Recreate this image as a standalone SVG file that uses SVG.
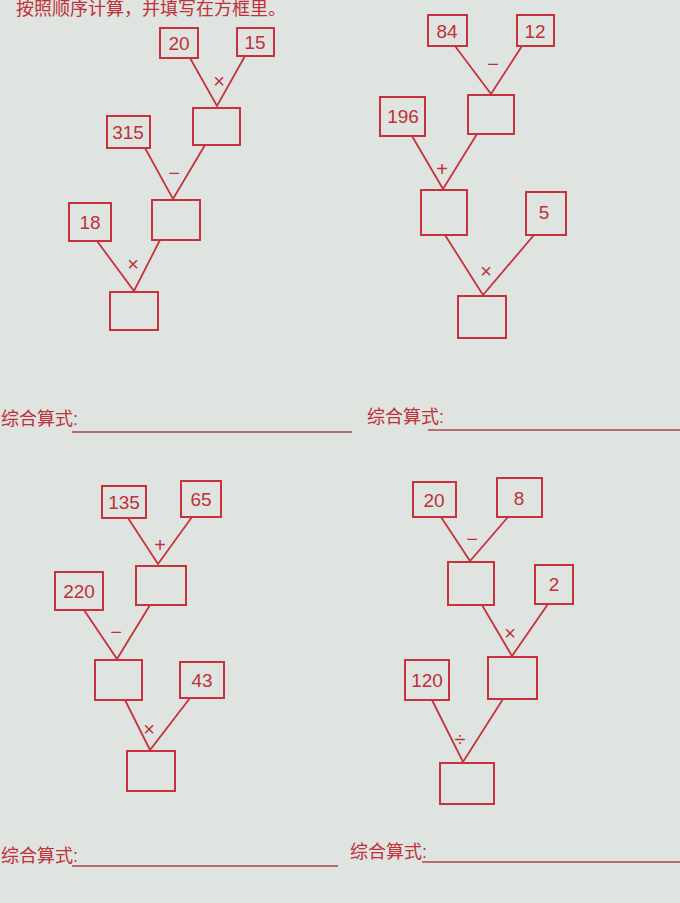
<svg xmlns="http://www.w3.org/2000/svg" width="680" height="903" viewBox="0 0 680 903">
<style>
.b{fill:none;stroke:#c8323c;stroke-width:2}
.c path,.c line{stroke:#c8323c;stroke-width:1.8;fill:none}
.n{font-family:"Liberation Sans",sans-serif;font-size:19px;fill:#c03038;text-anchor:middle}
.o{font-family:"Liberation Sans",sans-serif;font-size:20px;fill:#c03038;text-anchor:middle}
.l{font-family:"Liberation Sans","Noto Sans CJK SC",sans-serif;font-size:18px;fill:#c03038}
.u{stroke:#b04048;stroke-width:1.5}
</style>
<rect width="680" height="903" fill="#dfe4e1"/>
<text class="l" x="16" y="15" font-size="15">按照顺序计算，并填写在方框里。</text>
<g class="c" id="connectors">
<path d="M190 58L217 106L245 56"/><path d="M145 148L173 199L205 145"/><path d="M97 241L134 291L160 240"/>
<path d="M455 46L491 94L522 46"/><path d="M412 136L443 189L477 134"/><path d="M445 235L483 295L534 235"/>
<path d="M128 518L158 564L192 517"/><path d="M84 610L117 659L150 605"/><path d="M125 700L150 750L190 698"/>
<path d="M441 517L470 561L508 517"/><path d="M482 605L512 656L548 604"/><path d="M432 700L463 762L503 699"/>
</g>
<g id="t1">
<rect class="b" x="160" y="28" width="38" height="30"/><text class="n" x="179" y="50">20</text>
<rect class="b" x="237" y="28" width="37" height="28"/><text class="n" x="255" y="49">15</text>
<text class="o" x="219" y="88">×</text>
<rect class="b" x="193" y="108" width="47" height="37"/>
<rect class="b" x="107" y="116" width="43" height="32"/><text class="n" x="128" y="139">315</text>
<text class="o" x="174" y="180">−</text>
<rect class="b" x="152" y="200" width="48" height="40"/>
<rect class="b" x="69" y="203" width="42" height="38"/><text class="n" x="90" y="229">18</text>
<text class="o" x="133" y="271">×</text>
<rect class="b" x="110" y="292" width="48" height="38"/>
</g>
<g id="t2">
<rect class="b" x="428" y="15" width="39" height="31"/><text class="n" x="447" y="38">84</text>
<rect class="b" x="517" y="15" width="37" height="31"/><text class="n" x="535" y="38">12</text>
<text class="o" x="493" y="71">−</text>
<rect class="b" x="468" y="95" width="46" height="39"/>
<rect class="b" x="380" y="97" width="45" height="39"/><text class="n" x="403" y="123">196</text>
<text class="o" x="442" y="176">+</text>
<rect class="b" x="421" y="190" width="46" height="45"/>
<rect class="b" x="526" y="192" width="40" height="43"/><text class="n" x="544" y="219">5</text>
<text class="o" x="486" y="278">×</text>
<rect class="b" x="458" y="296" width="48" height="42"/>
</g>
<g id="t3">
<rect class="b" x="102" y="486" width="44" height="32"/><text class="n" x="124" y="509">135</text>
<rect class="b" x="181" y="481" width="40" height="36"/><text class="n" x="201" y="506">65</text>
<text class="o" x="160" y="552">+</text>
<rect class="b" x="136" y="566" width="50" height="39"/>
<rect class="b" x="55" y="572" width="48" height="38"/><text class="n" x="79" y="598">220</text>
<text class="o" x="116" y="639">−</text>
<rect class="b" x="95" y="660" width="47" height="40"/>
<rect class="b" x="180" y="662" width="44" height="36"/><text class="n" x="202" y="687">43</text>
<text class="o" x="149" y="736">×</text>
<rect class="b" x="127" y="751" width="48" height="40"/>
</g>
<g id="t4">
<rect class="b" x="413" y="482" width="43" height="35"/><text class="n" x="434" y="507">20</text>
<rect class="b" x="497" y="478" width="45" height="39"/><text class="n" x="519" y="505">8</text>
<text class="o" x="472" y="546">−</text>
<rect class="b" x="448" y="562" width="46" height="43"/>
<rect class="b" x="535" y="565" width="38" height="39"/><text class="n" x="554" y="591">2</text>
<text class="o" x="510" y="640">×</text>
<rect class="b" x="488" y="657" width="49" height="42"/>
<rect class="b" x="405" y="660" width="44" height="40"/><text class="n" x="427" y="687">120</text>
<text class="o" x="460" y="746">÷</text>
<rect class="b" x="440" y="763" width="54" height="41"/>
</g>
<g id="labels">
<text class="l" x="1" y="425">综合算式:</text><line class="u" x1="72" y1="432" x2="352" y2="432"/>
<text class="l" x="367" y="423">综合算式:</text><line class="u" x1="428" y1="430" x2="680" y2="430"/>
<text class="l" x="1" y="862">综合算式:</text><line class="u" x1="72" y1="866" x2="338" y2="866"/>
<text class="l" x="350" y="858">综合算式:</text><line class="u" x1="422" y1="862" x2="680" y2="862"/>
</g>
</svg>
